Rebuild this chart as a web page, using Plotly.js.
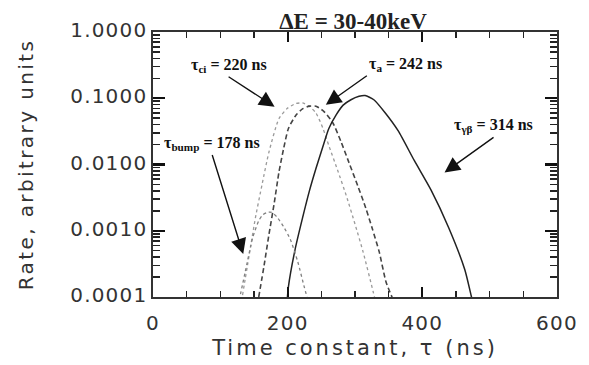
<!DOCTYPE html>
<html>
<head>
<meta charset="utf-8">
<script src="https://cdn.plot.ly/plotly-3.0.1.min.js"></script>
<style>
html,body{margin:0;padding:0;background:#fff;}
#chart{width:589px;height:365px;}
#chart .xtick text, #chart .ytick text{letter-spacing:1.2px;}
#chart .g-xtitle text{letter-spacing:3px;}
#chart .g-ytitle text{letter-spacing:2.4px;}
</style>
</head>
<body>
<div id="chart"></div>
<script>
// tau_ci curve (light dotted)
var ciTau = [133, 145, 152, 162, 172, 187, 200, 212, 222, 232, 242, 252, 261, 274, 287, 300, 312, 327, 335];
var ciRate = [1.07e-4, 5.8e-4, 1.55e-3, 5.0e-3, 0.0151, 0.049, 0.071, 0.083, 0.085, 0.076, 0.060, 0.036, 0.0195, 0.0083, 0.0034, 1.26e-3, 4.8e-4, 1.2e-4, 5.6e-5];

// tau_a curve (dashed)
var aTau = [157, 165, 172, 180, 187, 194, 201, 212, 222, 232, 242, 254, 267, 279, 291, 304, 316, 326, 336, 346, 357];
var aRate = [1.0e-4, 3.0e-4, 8.5e-4, 2.6e-3, 7.6e-3, 0.0174, 0.0347, 0.055, 0.069, 0.076, 0.076, 0.063, 0.0427, 0.0224, 0.0107, 4.8e-3, 2.2e-3, 1.05e-3, 4.8e-4, 1.7e-4, 8.9e-5];

// tau_gb curve (solid)
var gbTau = [199, 201, 211, 222, 232, 242, 252, 261, 272, 282, 294, 306, 315, 328, 345, 364, 388, 413, 439, 463, 473, 480];
var gbRate = [8.0e-5, 1.4e-4, 5.2e-4, 1.55e-3, 3.9e-3, 8.7e-3, 0.0182, 0.0347, 0.056, 0.078, 0.095, 0.107, 0.110, 0.095, 0.060, 0.0324, 0.0115, 4.1e-3, 1.12e-3, 2.6e-4, 1.0e-4, 5.0e-5];

// tau_bump curve (small, dotted)
var bumpTau = [128, 137, 148, 157, 163, 170, 176, 184, 194, 204, 215, 224, 230];
var bumpRate = [8.9e-5, 2.4e-4, 7.8e-4, 1.41e-3, 1.74e-3, 1.9e-3, 1.9e-3, 1.62e-3, 1.15e-3, 7.4e-4, 3.4e-4, 1.5e-4, 8.9e-5];

// axis tick settings (tick labels: 0.0001 ... 1.0000 and 0, 200, 400, 600)
var yTickFormat = '.4f';
var xTickStep = 200;
var xMinorStep = 50;

var labelFont = {family: 'Liberation Serif', size: 16, color: '#111', weight: 'bold'};

var traces = [
  {x: ciTau, y: ciRate, mode: 'lines', line: {color: '#9a9a9a', width: 1.3, dash: 'dot', shape: 'spline', smoothing: 0.6}, hoverinfo: 'skip'},
  {x: aTau, y: aRate, mode: 'lines', line: {color: '#444', width: 1.6, dash: '5px,3px', shape: 'spline', smoothing: 0.6}, hoverinfo: 'skip'},
  {x: gbTau, y: gbRate, mode: 'lines', line: {color: '#222', width: 1.5, shape: 'spline', smoothing: 0.6}, hoverinfo: 'skip'},
  {x: bumpTau, y: bumpRate, mode: 'lines', line: {color: '#808080', width: 1.3, dash: 'dot', shape: 'spline', smoothing: 0.6}, hoverinfo: 'skip'}
];

function lab(t, x, y, ax, ay, xa) {
  return {text: t, x: x, y: Math.log10(y), xref: 'x', yref: 'y', ax: ax, ay: ay,
          xanchor: xa, yanchor: 'bottom', font: labelFont, showarrow: true,
          arrowhead: 2, arrowsize: 2.2, arrowwidth: 1.4, arrowcolor: '#111', standoff: 0, startstandoff: 0};
}

var layout = {
  width: 589, height: 365,
  margin: {l: 153, r: 32, t: 32, b: 68},
  paper_bgcolor: '#fff', plot_bgcolor: '#fff',
  showlegend: false,
  title: {text: '<b>ΔE = 30-40keV</b>', font: {family: 'Liberation Serif', size: 23, color: '#222'},
          x: 0.495, xref: 'paper', xanchor: 'center', y: 0.942, yref: 'container', yanchor: 'middle'},
  xaxis: {
    range: [0, 600], tickmode: 'linear', tick0: 0, dtick: xTickStep,
    ticks: 'inside', ticklen: 10, tickwidth: 2.2, tickcolor: '#111',
    minor: {tickmode: 'linear', tick0: 0, dtick: xMinorStep, ticks: 'inside', ticklen: 6, tickwidth: 1.6, tickcolor: '#222'},
    showline: true, linecolor: '#333', linewidth: 1.6, mirror: 'allticks',
    gridcolor: 'rgba(0,0,0,0)', zerolinecolor: 'rgba(0,0,0,0)', ticklabelstandoff: 7,
    tickfont: {family: 'DejaVu Sans', size: 20, color: '#333'},
    title: {text: 'Time constant, τ (ns)', font: {family: 'DejaVu Sans', size: 21, color: '#333'}, standoff: 7}
  },
  yaxis: {
    type: 'log', range: [-4, 0], tickmode: 'linear', tick0: 0, dtick: 1, tickformat: yTickFormat,
    ticks: 'inside', ticklen: 12, tickwidth: 2.2, tickcolor: '#111',
    minor: {ticks: 'inside', ticklen: 7, tickwidth: 1.6, tickcolor: '#222'},
    showline: true, linecolor: '#333', linewidth: 1.6, mirror: 'allticks',
    gridcolor: 'rgba(0,0,0,0)', zerolinecolor: 'rgba(0,0,0,0)', ticklabelshift: -2,
    tickfont: {family: 'DejaVu Sans', size: 20, color: '#333'},
    title: {text: 'Rate, arbitrary units', font: {family: 'DejaVu Sans', size: 20, color: '#333'}, standoff: 38}
  },
  annotations: [
    lab('τ<sub>ci</sub> = 220 ns', 180.6, 0.0745, -46, -30, 'center'),
    lab('τ<sub>a</sub> = 242 ns', 256.7, 0.0797, 41, -29, 'left'),
    lab('τ<sub>bump</sub> = 178 ns', 134, 0.000445, -31, -99, 'center'),
    lab('τ<sub>γβ</sub> = 314 ns', 433, 0.0076, 49, -35, 'center')
  ]
};

Plotly.newPlot('chart', traces, layout, {staticPlot: true, displayModeBar: false});
</script>
</body>
</html>
